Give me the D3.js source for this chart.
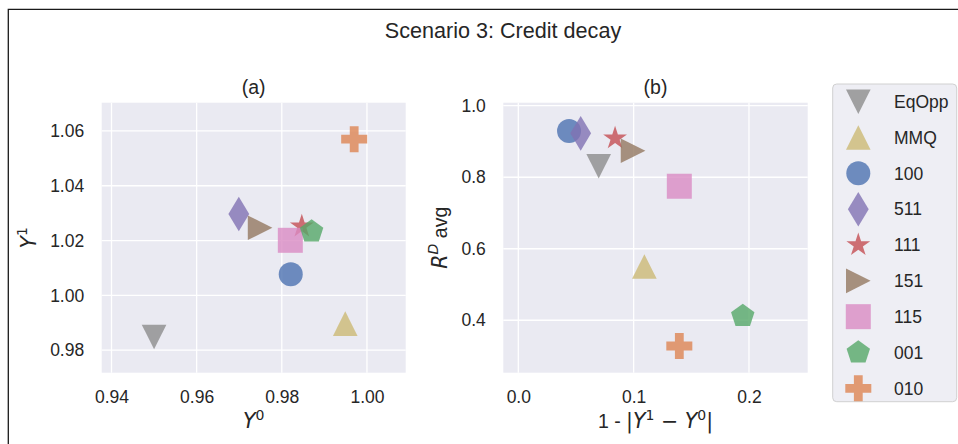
<!DOCTYPE html>
<html>
<head>
<meta charset="utf-8">
<script src="https://cdn.jsdelivr.net/npm/d3@7"></script>
<style>
  body { margin: 0; background: #fff; }
  text { font-family: "Liberation Sans", Arial, sans-serif; fill: #262626; }
  .math { font-family: "DejaVu Sans", sans-serif; }
</style>
</head>
<body>
<svg id="chart" width="958" height="444"></svg>
<script>
// data
const methods = ["EqOpp", "MMQ", "100", "511", "111", "151", "115", "001", "010"];
const markers = ["tri_down", "tri_up", "circle", "thin_diamond", "star", "tri_right", "square", "pentagon", "plus"];
const colors  = ["#8c8c8c", "#ccb974", "#4c72b0", "#8172b3", "#c44e52", "#937860", "#da8bc3", "#55a868", "#dd8452"];

// panel (a): Y0 vs Y1
const y0Vals = [0.9500, 0.9949, 0.9821, 0.9699, 0.9847, 0.9749, 0.9820, 0.9870, 0.9970];
const y1Vals = [0.9848, 0.9897, 1.0077, 1.0297, 1.0252, 1.0247, 1.0201, 1.0233, 1.0570];
// panel (b): 1 - |Y1 - Y0| vs R^D avg
const gapVals = [0.0697, 0.1093, 0.0440, 0.0541, 0.0839, 0.0995, 0.1396, 0.1946, 0.1396];
const rdAvg   = [0.8305, 0.5505, 0.9290, 0.9227, 0.9090, 0.8740, 0.7748, 0.4120, 0.3280];

const ticksAx = [0.94, 0.96, 0.98, 1.00];
const ticksAy = [0.98, 1.00, 1.02, 1.04, 1.06];
const ticksBx = [0.0, 0.1, 0.2];
const ticksBy = [0.4, 0.6, 0.8, 1.0];

const svg = d3.select("#chart");
const tickFont = 17.5, labelFont = 19.5, mathFont = 20.5;

// marker outlines, centred on 0,0
function markerPath(type) {
  const p = d3.path();
  const poly = pts => { pts.forEach((q, i) => i ? p.lineTo(q[0], q[1]) : p.moveTo(q[0], q[1])); p.closePath(); };
  switch (type) {
    case "circle": p.arc(0, 0, 12, 0, 2 * Math.PI); break;
    case "square": p.rect(-12.5, -12.5, 25, 25); break;
    case "tri_up": poly([[0, -12.3], [-12.3, 12.3], [12.3, 12.3]]); break;
    case "tri_down": poly([[0, 12.3], [-12.3, -12.3], [12.3, -12.3]]); break;
    case "tri_right": poly([[12.3, 0], [-12.3, -12.3], [-12.3, 12.3]]); break;
    case "thin_diamond": poly([[0, -17.3], [10.4, 0], [0, 17.3], [-10.4, 0]]); break;
    case "star": {
      const pts = [];
      for (let i = 0; i < 10; i++) {
        const r = i % 2 ? 12.5 * 0.381966 : 12.5, a = -Math.PI / 2 + i * Math.PI / 5;
        pts.push([r * Math.cos(a), r * Math.sin(a)]);
      }
      poly(pts); break;
    }
    case "pentagon": {
      const pts = [];
      for (let i = 0; i < 5; i++) {
        const a = -Math.PI / 2 + i * 2 * Math.PI / 5;
        pts.push([12.3 * Math.cos(a), 12.3 * Math.sin(a)]);
      }
      poly(pts); break;
    }
    case "plus": {
      const h = 13, w = 4.4;
      poly([[-w, -h], [w, -h], [w, -w], [h, -w], [h, w], [w, w], [w, h], [-w, h], [-w, w], [-h, w], [-h, -w], [-w, -w]]);
      break;
    }
  }
  return p.toString();
}

function panel(opts) {
  const { x, y, xt, yt, xf, yf, xs, ys, title } = opts;
  const g = svg.append("g");
  const [x0, x1] = x.range(), [yb, ytop] = y.range();

  g.append("rect").attr("x", x0).attr("y", ytop).attr("width", x1 - x0).attr("height", yb - ytop).attr("fill", "#eaeaf2");

  g.append("g").selectAll("line").data(xt).join("line")
    .attr("x1", d => x(d)).attr("x2", d => x(d)).attr("y1", ytop).attr("y2", yb)
    .attr("stroke", "#fff").attr("stroke-width", 1.3);
  g.append("g").selectAll("line").data(yt).join("line")
    .attr("y1", d => y(d)).attr("y2", d => y(d)).attr("x1", x0).attr("x2", x1)
    .attr("stroke", "#fff").attr("stroke-width", 1.3);

  const ax = g.append("g").attr("transform", `translate(0,${yb})`)
    .call(d3.axisBottom(x).tickValues(xt).tickFormat(d3.format(xf)).tickSize(0).tickPadding(18));
  const ay = g.append("g").attr("transform", `translate(${x0},0)`)
    .call(d3.axisLeft(y).tickValues(yt).tickFormat(d3.format(yf)).tickSize(0).tickPadding(17.5));
  [ax, ay].forEach(a => {
    a.select(".domain").remove();
    a.selectAll("text").attr("font-size", tickFont).attr("fill", "#262626")
      .style("font-family", '"Liberation Sans", Arial, sans-serif');
  });

  g.append("text").attr("x", (x0 + x1) / 2).attr("y", 93.5).attr("text-anchor", "middle")
    .attr("font-size", labelFont).text(title);

  g.append("g").selectAll("path").data(methods).join("path")
    .attr("d", (d, i) => markerPath(markers[i]))
    .attr("transform", (d, i) => `translate(${x(xs[i])},${y(ys[i])})`)
    .attr("fill", (d, i) => colors[i]).attr("fill-opacity", 0.8);
  return g;
}

const xA = d3.scaleLinear().domain([0.9377, 1.0091]).range([101.7, 405.7]);
const yA = d3.scaleLinear().domain([0.9718, 1.0703]).range([372.7, 102.7]);
const xB = d3.scaleLinear().domain([-0.013, 0.2509]).range([503.3, 807.7]);
const yB = d3.scaleLinear().domain([0.2534, 1.0084]).range([372.7, 102.7]);

panel({ x: xA, y: yA, xt: ticksAx, yt: ticksAy, xf: ".2f", yf: ".2f", xs: y0Vals, ys: y1Vals, title: "(a)" });
panel({ x: xB, y: yB, xt: ticksBx, yt: ticksBy, xf: ".1f", yf: ".1f", xs: gapVals, ys: rdAvg, title: "(b)" });

// axis labels
const la = svg.append("text").attr("x", 253.7).attr("y", 428.3).attr("text-anchor", "middle").attr("font-size", mathFont);
la.append("tspan").attr("class", "math").attr("font-style", "italic").text("Y");
la.append("tspan").attr("class", "math").attr("font-size", 14).attr("dy", -8.5).text("0");

const lb = svg.append("text").attr("x", 655.5).attr("y", 428.3).attr("text-anchor", "middle").attr("font-size", labelFont);
lb.append("tspan").text("1 - ");
lb.append("tspan").attr("class", "math").attr("font-size", mathFont).text("|");
lb.append("tspan").attr("class", "math").attr("font-size", mathFont).attr("font-style", "italic").text("Y");
lb.append("tspan").attr("class", "math").attr("font-size", 14).attr("dy", -8.5).text("1");
lb.append("tspan").attr("class", "math").attr("font-size", mathFont).attr("dy", 8.5).text(" \u2212 ");
lb.append("tspan").attr("class", "math").attr("font-size", mathFont).attr("font-style", "italic").text("Y");
lb.append("tspan").attr("class", "math").attr("font-size", 14).attr("dy", -8.5).text("0");
lb.append("tspan").attr("class", "math").attr("font-size", mathFont).attr("dy", 8.5).text("|");

const ya = svg.append("text").attr("transform", "translate(35.5,237.7) rotate(-90)").attr("text-anchor", "middle").attr("font-size", mathFont);
ya.append("tspan").attr("class", "math").attr("font-style", "italic").text("Y");
ya.append("tspan").attr("class", "math").attr("font-size", 14).attr("dy", -8.5).text("1");

const yb = svg.append("text").attr("transform", "translate(446.5,237.7) rotate(-90)").attr("text-anchor", "middle").attr("font-size", labelFont);
yb.append("tspan").attr("class", "math").attr("font-size", mathFont).attr("font-style", "italic").text("R");
yb.append("tspan").attr("class", "math").attr("font-style", "italic").attr("font-size", 14).attr("dy", -8.5).text("D");
yb.append("tspan").attr("dy", 8.5).text(" avg");

// suptitle
svg.append("text").attr("x", 503).attr("y", 38).attr("text-anchor", "middle").attr("font-size", 21.6).text("Scenario 3: Credit decay");

// legend
const leg = svg.append("g");
leg.append("rect").attr("x", 832.7).attr("y", 84).attr("width", 124).attr("height", 317.7).attr("rx", 4)
  .attr("fill", "#eeeef4").attr("stroke", "#d0d0d0").attr("stroke-width", 1);
const rowY = d3.scalePoint().domain(methods).range([101.7, 388.3]);
const rows = leg.selectAll("g.row").data(methods).join("g").attr("class", "row")
  .attr("transform", d => `translate(858.3,${rowY(d)})`);
rows.append("path").attr("d", (d, i) => markerPath(markers[i])).attr("fill", (d, i) => colors[i]).attr("fill-opacity", 0.8);
rows.append("text").attr("x", 35.7).attr("y", tickFont * 0.36).attr("font-size", tickFont).text(d => d);

// figure frame (top and left edges visible in the crop)
svg.append("path").attr("d", "M8.3,444V9.3H958").attr("fill", "none").attr("stroke", "#1a1a1a").attr("stroke-width", 1.3);
</script>
</body>
</html>
